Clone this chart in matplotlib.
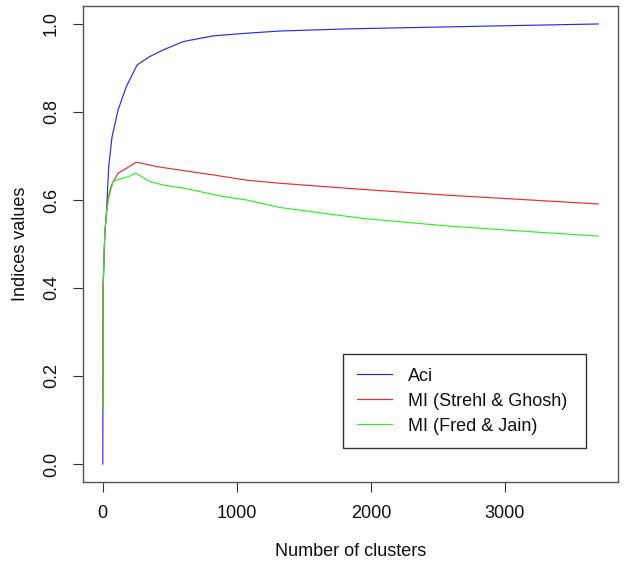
import matplotlib
matplotlib.use("Agg")
import matplotlib.pyplot as plt

plt.rcParams['font.family'] = ['Liberation Sans', 'DejaVu Sans']

# Number of clusters (x) and index values
aci_x = [1, 2, 3, 16, 28, 45, 70, 115, 177, 257, 351, 451, 600, 824, 1073, 1322, 1844, 2838, 3695]
aci_y = [0.0, 0.176, 0.40, 0.524, 0.57, 0.676, 0.744, 0.805, 0.858, 0.907, 0.926, 0.941, 0.960,
         0.973, 0.979, 0.984, 0.989, 0.995, 1.0]

mi_sg_x = [1, 3, 16, 28, 40, 65, 115, 177, 252, 401, 575, 824, 1073, 1321, 1942, 2566, 3187, 3695]
mi_sg_y = [0.127, 0.40, 0.524, 0.57, 0.604, 0.634, 0.661, 0.672, 0.686, 0.676, 0.668, 0.657,
           0.645, 0.638, 0.624, 0.611, 0.600, 0.591]

mi_fj_x = [1, 3, 16, 28, 48, 78, 128, 190, 247, 351, 451, 600, 899, 1073, 1321, 1942, 2566, 3187, 3695]
mi_fj_y = [0.127, 0.40, 0.524, 0.57, 0.608, 0.642, 0.648, 0.653, 0.661, 0.642, 0.634, 0.627,
           0.608, 0.600, 0.583, 0.558, 0.541, 0.528, 0.518]

labels = ["Aci", "MI (Strehl & Ghosh)", "MI (Fred & Jain)"]
x_ticks = [0, 1000, 2000, 3000]
y_ticks = [0.0, 0.2, 0.4, 0.6, 0.8, 1.0]

fig = plt.figure(figsize=(6.25, 5.64), dpi=100)
ax = fig.add_axes([0.1328, 0.1461, 0.856, 0.8426])

ax.plot(aci_x, aci_y, color="#2b2bf0", lw=0.85, label=labels[0])
ax.plot(mi_sg_x, mi_sg_y, color="#f02b2b", lw=0.85, label=labels[1])
ax.plot(mi_fj_x, mi_fj_y, color="#2bf02b", lw=0.85, label=labels[2])

xmax = 3695
ax.set_xlim(1 - 0.04 * (xmax - 1), xmax + 0.04 * (xmax - 1))
ax.set_ylim(-0.04, 1.04)

ax.set_xticks(x_ticks)
ax.set_xticklabels([str(t) for t in x_ticks])
ax.set_yticks(y_ticks)
ax.set_yticklabels([f"{t:.1f}" for t in y_ticks], rotation=90, va='center')

ax.tick_params(axis='both', direction='out', length=7.2, width=0.8, color='#333333',
               labelsize=13, labelcolor='#111111', pad=9.5)
for s in ax.spines.values():
    s.set_color('#555555')
    s.set_linewidth(1.0)

ax.set_xlabel("Number of clusters", fontsize=13, color='#111111', labelpad=15)
ax.set_ylabel("Indices values", fontsize=13, color='#111111', labelpad=10)

leg = ax.legend(loc='upper left', bbox_to_anchor=(0.549, 0.2057, 0.3887, 0.1666),
                bbox_transform=fig.transFigure, mode='expand', borderaxespad=0,
                fontsize=13, frameon=True, fancybox=False, edgecolor='#333333',
                framealpha=1, borderpad=0.75, handlelength=1.95, handletextpad=0.9,
                labelspacing=0.45)
leg.get_frame().set_linewidth(1.0)
for t in leg.get_texts():
    t.set_color('#111111')

fig.savefig("out.png", dpi=100)
